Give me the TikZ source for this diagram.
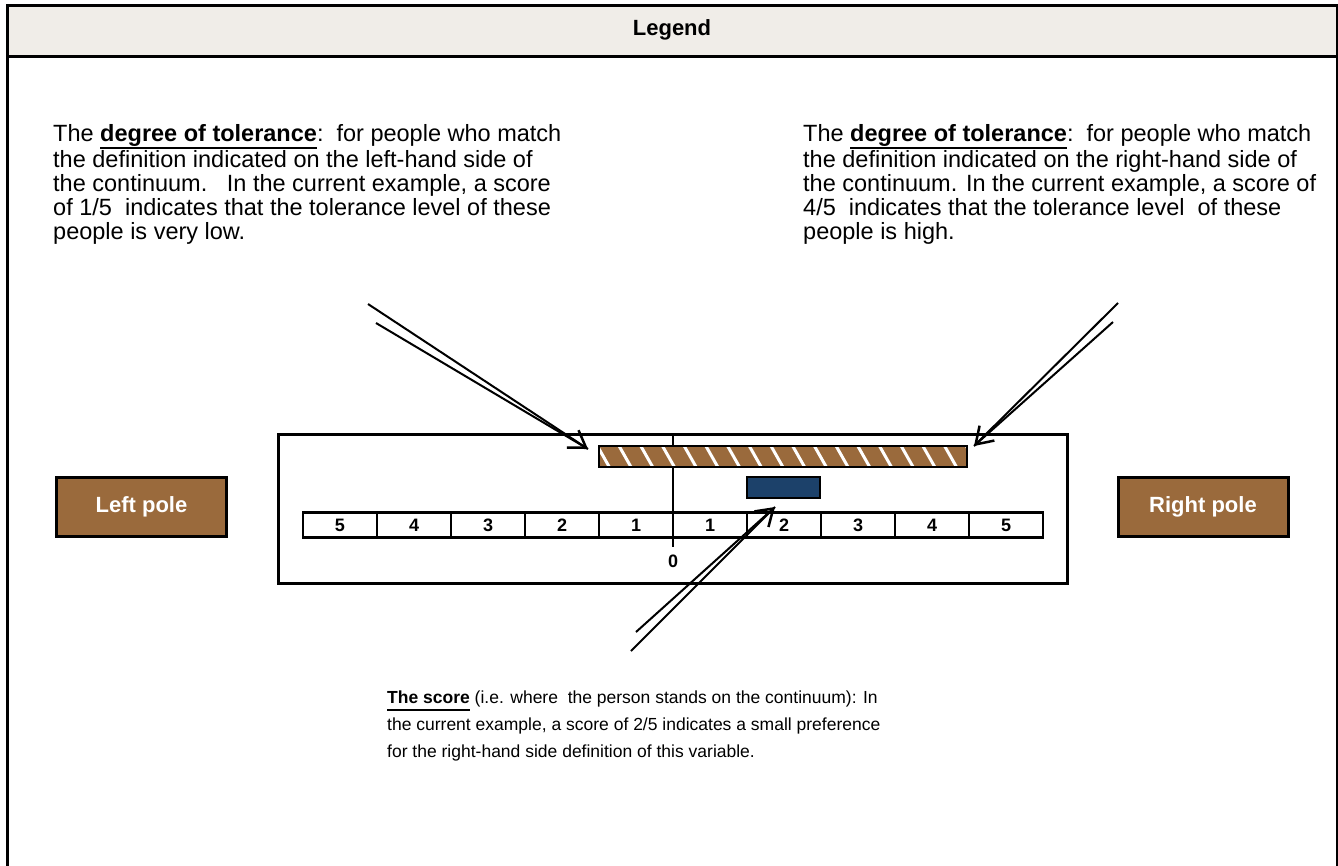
\documentclass[tikz,border=0pt]{standalone}
\usepackage{fontspec}
\setmainfont{Liberation Sans}
\usetikzlibrary{arrows.meta}

\definecolor{poleBrown}{HTML}{9A6A3C}
\definecolor{headFill}{HTML}{F0EDE8}
\definecolor{scoreBlue}{HTML}{1C416A}

% bold, underlined phrase with a heavy rule below the descenders
\newcommand{\ulbf}[1]{\setbox0\hbox{\bfseries #1}\rlap{\rule[-7.7pt]{\wd0}{2pt}}\box0\relax}

\begin{document}
\begin{tikzpicture}[x=1pt,y=-1pt,
  framebox/.style={line width=3pt},
  polebox/.style={draw=black, line width=3pt, fill=poleBrown, text=white,
    font=\fontsize{22}{26}\selectfont\bfseries, minimum width=170pt,
    minimum height=59pt, inner sep=0pt},
  cell/.style={draw=black, line width=2.5pt, minimum width=74pt,
    minimum height=25pt, inner sep=0pt, outer sep=0pt,
    font=\fontsize{18}{20}\selectfont\bfseries},
  bodytext/.style={anchor=base west, align=left, inner sep=0pt,
    font=\fontsize{23.5}{24}\selectfont},
  smalltext/.style={anchor=base west, align=left, inner sep=0pt,
    font=\fontsize{17.5}{27}\selectfont},
  pointer/.style={line width=2pt, -{Straight Barb[length=16pt,width=21pt,line width=2.5pt]}},
  pointerline/.style={line width=2pt}]

\useasboundingbox (0,0) rectangle (1338,865);

% outer frame with header strip
\begin{scope}
  \clip (0,0) rectangle (1338,865);
  \fill[headFill] (7,5.5) rectangle (1337,56);
  \draw[framebox] (7,5.5) rectangle (1337,900);
  \draw[framebox] (7,56) -- (1337,56);
\end{scope}
\node[font=\fontsize{22}{26}\selectfont\bfseries] (legend) at (672,30) {Legend};

% explanatory texts (anchored at the baseline of their last line)
\node[bodytext] (lefttext) at (53,239) {The \ulbf{degree of tolerance}:\ \ for people who match\\
the definition indicated on the left-hand side of\\
the continuum.\ \ \ In the current example, a score\\
of 1/5\ \ indicates that the tolerance level of these\\
people is very low.};

\node[bodytext] (righttext) at (803,239) {The \ulbf{degree of tolerance}:\ \ for people who match\\
the definition indicated on the right-hand side of\\
the continuum. In the current example, a score of\\
4/5\ \ indicates that the tolerance level\ \ of these\\
people is high.};

\node[smalltext] (scoretext) at (387,757) {\ulbf{The score} (i.e. where\ \ the person stands on the continuum): In\\
the current example, a score of 2/5 indicates a small preference\\
for the right-hand side definition of this variable.};

% poles
\node[polebox] (leftpole) at (141.5,507) {Left pole};
\node[polebox] (rightpole) at (1203,507) {Right pole};

% continuum frame
\draw[line width=3pt] (278,434) rectangle (1067,583);
\coordinate (zerotop) at (673,434);
\coordinate (zerobot) at (673,547);
\draw[line width=2.5pt] (zerotop) -- (zerobot);
\node[font=\fontsize{18}{20}\selectfont\bfseries] (zero) at (673,561) {0};

% scale cells
\foreach \n [count=\i from 0] in {5,4,3,2,1,1,2,3,4,5}
  \node[cell] (c\i) at (340+74*\i,525) {\n};

% tolerance bar with white diagonal hatching
\fill[poleBrown] (599,446) rectangle (967,467);
\begin{scope}
  \clip (599,446) rectangle (967,467);
  \foreach \k in {0,...,17}
    \draw[white, line width=3pt] (594+21.7*\k,440) -- (612.7+21.7*\k,473);
\end{scope}
\node[draw=black, line width=2.5pt, minimum width=368pt, minimum height=21pt,
  inner sep=0pt] (tol) at (783,456.5) {};

% score bar
\node[draw=black, line width=2.5pt, fill=scoreBlue, minimum width=73pt,
  minimum height=21pt, inner sep=0pt] (score) at (783.5,487.5) {};

% pointers
\coordinate (la) at (368,304);
\coordinate (lb) at (376,323);
\coordinate (ltip) at (588,449);
\draw[pointer] (la) -- (ltip);
\draw[pointerline] (lb) -- (ltip);

\coordinate (ra) at (1118,303);
\coordinate (rb) at (1113,322);
\coordinate (rtip) at (974,446);
\draw[pointer] (ra) -- (rtip);
\draw[pointerline] (rb) -- (rtip);

\coordinate (ba) at (636,632);
\coordinate (bb) at (631,651);
\coordinate (btip) at (775,507);
\draw[pointer] (ba) -- (btip);
\draw[pointerline] (bb) -- (btip);
\end{tikzpicture}
\end{document}
